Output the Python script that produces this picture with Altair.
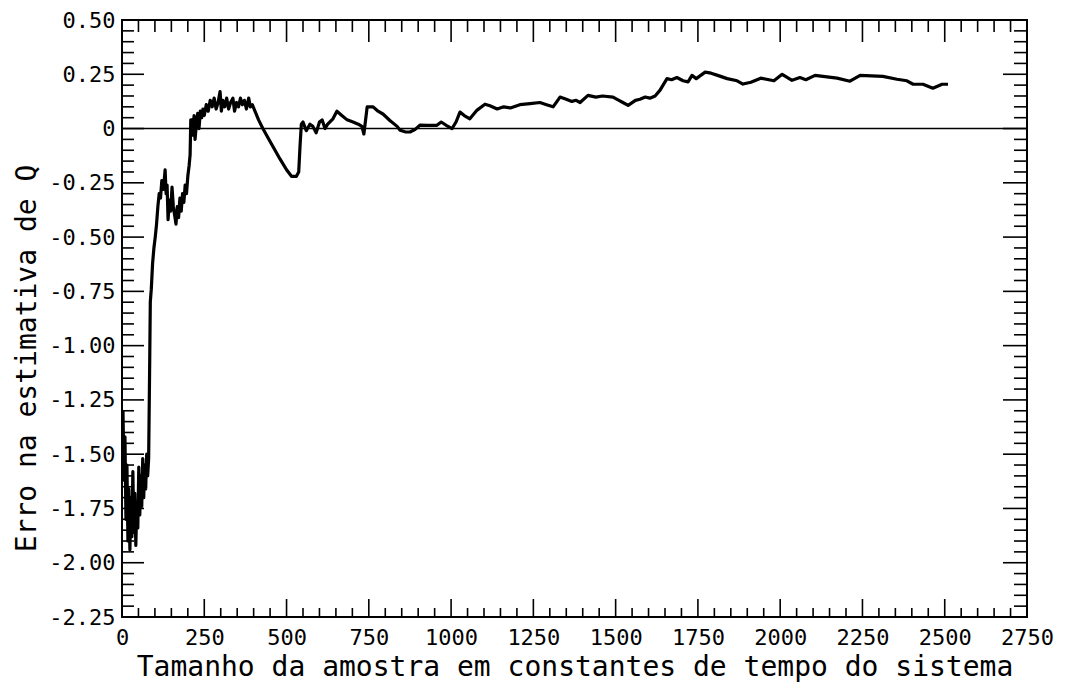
import altair as alt
import pandas as pd

# ---- data ----
x_vals = [3, 6, 9, 12, 15, 18, 21, 24, 27, 30, 33, 36, 39, 42, 45, 48, 51, 54, 57, 60,
          63, 66, 69, 72, 75, 78, 81,
          84, 86, 89, 93, 97, 101, 105, 109, 113, 117, 121, 126, 131, 134, 137, 140, 144,
          148, 152, 156, 160, 164, 168, 172, 176, 180, 184, 188, 192, 196, 200, 204, 207,
          209, 213, 216, 219, 222, 226, 230, 234, 238, 242, 246, 250, 256, 262, 268, 274,
          280, 286, 292, 298, 302, 306, 312, 318, 324, 330, 337, 342, 348, 354, 360, 366,
          372, 378, 385, 390, 396, 404, 415, 428, 450, 480, 500, 515, 530, 537, 541, 545,
          550, 560, 571, 580, 590, 600, 608, 617, 625, 641, 653, 668, 684, 702, 718, 729,
          735, 745, 763, 778, 793, 814, 836, 845, 860, 875, 890, 906, 930, 957, 970, 985,
          1003, 1015, 1027, 1040, 1057, 1079, 1103, 1118, 1140, 1160, 1180, 1209, 1240,
          1270, 1290, 1310, 1331, 1350, 1367, 1380, 1392, 1416, 1440, 1460, 1492, 1510,
          1522, 1538, 1560, 1574, 1590, 1604, 1620, 1635, 1656, 1670, 1686, 1705, 1720,
          1732, 1745, 1772, 1790, 1810, 1839, 1869, 1887, 1911, 1941, 1981, 2006, 2036,
          2060, 2078, 2106, 2130, 2173, 2212, 2243, 2312, 2355, 2385, 2404, 2434, 2464,
          2492, 2510]
y_vals = [-1.30, -1.62, -1.42, -1.80, -1.55, -1.90, -1.66, -1.94, -1.70, -1.88, -1.58,
          -1.86, -1.68, -1.92, -1.72, -1.84, -1.56, -1.78, -1.60, -1.74, -1.52, -1.70,
          -1.55, -1.66, -1.50, -1.60, -1.52,
          -1.10, -0.80, -0.74, -0.62, -0.55, -0.50, -0.44, -0.36, -0.30, -0.32, -0.24,
          -0.28, -0.19, -0.30, -0.26, -0.42, -0.33, -0.38, -0.27, -0.36, -0.40, -0.44,
          -0.36, -0.41, -0.32, -0.38, -0.30, -0.34, -0.26, -0.30, -0.22, -0.17, -0.12,
          0.04, 0.04, -0.03, 0.06, -0.05, 0.02, 0.07, 0.00, 0.08, 0.05, 0.09, 0.06, 0.11,
          0.08, 0.13, 0.10, 0.14, 0.09, 0.12, 0.17, 0.08, 0.13, 0.10, 0.14, 0.09, 0.12,
          0.14, 0.08, 0.12, 0.10, 0.14, 0.11, 0.13, 0.09, 0.14, 0.10, 0.11, 0.08, 0.04,
          0.00, -0.06, -0.14, -0.19, -0.22, -0.22, -0.20, -0.08, 0.02,
          0.03, -0.01, 0.02, 0.01, -0.02, 0.03, 0.04, 0.00, 0.02, 0.045, 0.08, 0.06, 0.04,
          0.03, 0.02, 0.01,
          -0.025, 0.10, 0.10, 0.08, 0.067, 0.037, 0.01, -0.008, -0.015, -0.016, -0.005,
          0.016, 0.015, 0.015, 0.03, 0.015,
          0.0, 0.03, 0.076, 0.06, 0.045, 0.085, 0.112, 0.105, 0.09, 0.10, 0.095, 0.11,
          0.115, 0.12, 0.11, 0.10, 0.145, 0.135, 0.125, 0.13, 0.12, 0.153, 0.145, 0.15,
          0.145, 0.13, 0.12, 0.107, 0.13, 0.135, 0.145, 0.14, 0.15, 0.177, 0.23, 0.225,
          0.235, 0.22, 0.215, 0.245, 0.23, 0.26, 0.255, 0.245, 0.23, 0.22, 0.205, 0.213,
          0.232, 0.22, 0.25, 0.222, 0.235, 0.225, 0.245, 0.24, 0.232, 0.218, 0.245, 0.24,
          0.227, 0.22, 0.204, 0.204, 0.186, 0.204, 0.204]

x_major = list(range(0, 2751, 250))
x_minor = [v for v in range(0, 2751, 50) if v % 250 != 0]
y_major = [round(-2.25 + 0.25 * i, 2) for i in range(12)]
y_minor = [round(-2.25 + 0.05 * i, 2) for i in range(56) if i % 5 != 0]

W, H = 905, 597
FONT = "DejaVu Sans Mono"

df = pd.DataFrame({"x": x_vals, "y": y_vals})
xs = alt.Scale(domain=[0, 2750], nice=False, zero=False)
ys = alt.Scale(domain=[-2.25, 0.5], nice=False, zero=False)

x_axis = alt.Axis(
    values=x_major, ticks=False, domain=False, grid=False,
    labelFont=FONT, labelFontSize=22, labelColor="black", labelPadding=10,
    format="d", labelFlush=False,
    title="Tamanho da amostra em constantes de tempo do sistema",
    titleFont=FONT, titleFontSize=28, titleFontWeight="normal", titleColor="black",
    titlePadding=5)
y_axis = alt.Axis(
    values=y_major, ticks=False, domain=False, grid=False,
    labelFont=FONT, labelFontSize=22, labelColor="black", labelPadding=7,
    labelFlush=False,
    labelExpr="datum.value == 0 ? '0' : (datum.value < 0 ? '-' : '') + format(abs(datum.value), '.2f')",
    title="Erro na estimativa de Q",
    titleFont=FONT, titleFontSize=28, titleFontWeight="normal", titleColor="black",
    titleAngle=-90, titleX=-95, titleY=338, titleAlign="center", titleBaseline="middle")

line = alt.Chart(df).mark_line(color="black", strokeWidth=3.2, strokeJoin="round").encode(
    x=alt.X("x:Q", scale=xs, axis=x_axis),
    y=alt.Y("y:Q", scale=ys, axis=y_axis),
)

zero_df = pd.DataFrame({"y": [0.0]})
zero = alt.Chart(zero_df).mark_rule(color="black", strokeWidth=1.5).encode(
    y=alt.Y("y:Q", scale=ys, axis=y_axis))


def xticks(vals, y0, y1):
    return alt.Chart(pd.DataFrame({"x": vals})).mark_rule(color="black", strokeWidth=1.6).encode(
        x=alt.X("x:Q", scale=xs, axis=x_axis), y=alt.value(y0), y2=alt.value(y1))


def yticks(vals, x0, x1):
    return alt.Chart(pd.DataFrame({"y": vals})).mark_rule(color="black", strokeWidth=1.6).encode(
        y=alt.Y("y:Q", scale=ys, axis=y_axis), x=alt.value(x0), x2=alt.value(x1))


ticks = [
    xticks(x_major, H, H - 18), xticks(x_minor, H, H - 9),
    xticks(x_major, 0, 22), xticks(x_minor, 0, 12),
    yticks(y_major, 0, 22), yticks(y_minor, 0, 12),
    yticks(y_major, W, W - 24), yticks(y_minor, W, W - 13),
]

chart = alt.layer(line, zero, *ticks).properties(
    width=W, height=H,
    autosize=alt.AutoSizeParams(type="none"),
    padding={"left": 114, "top": 12, "right": 40, "bottom": 70},
    background="white",
).configure_view(stroke="black", strokeWidth=2)

chart.save("out.html", embed_options={"renderer": "svg", "actions": False})
